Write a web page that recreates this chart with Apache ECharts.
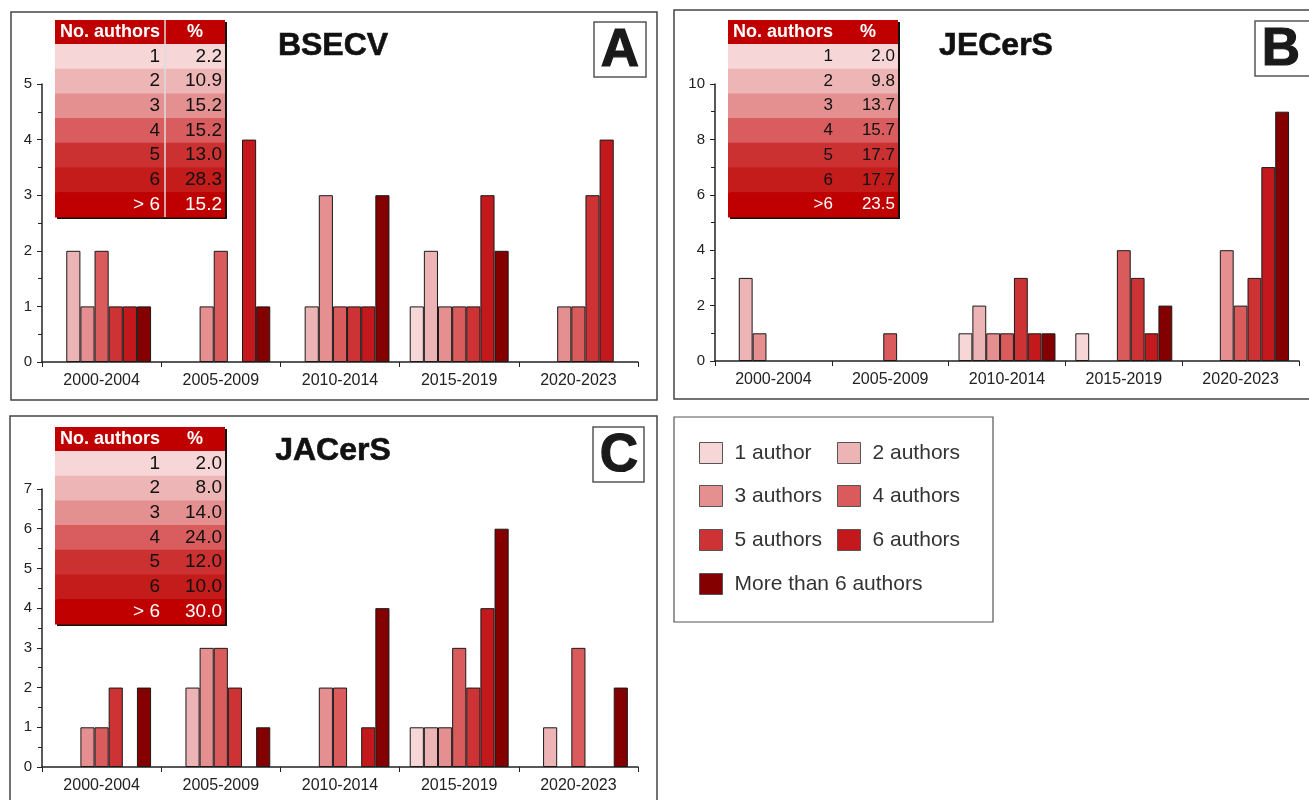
<!DOCTYPE html>
<html>
<head>
<meta charset="utf-8">
<script src="https://cdn.jsdelivr.net/npm/echarts@6/dist/echarts.min.js"></script>
<style>
  html, body { margin: 0; padding: 0; background: #fff; }
  #main { width: 1309px; height: 800px; }
</style>
</head>
<body>
<div id="main"></div>
<script>
// periods on the x axis
const periods = ['2000-2004', '2005-2009', '2010-2014', '2015-2019', '2020-2023'];
const groupNames = ['1 author', '2 authors', '3 authors', '4 authors', '5 authors', '6 authors', 'More than 6 authors'];
const groupColors = ['#f6d6d7', '#edb4b5', '#e58f90', '#d95b5c', '#cd3334', '#c3191c', '#840000'];

// counts per author group (rows) across periods (columns)
const bsecvCounts = [
  [0, 0, 0, 1, 0],
  [2, 0, 1, 2, 0],
  [1, 1, 3, 1, 1],
  [2, 2, 1, 1, 1],
  [1, 0, 1, 1, 3],
  [1, 4, 1, 3, 4],
  [1, 1, 3, 2, 0]
];
const jecersCounts = [
  [0, 0, 1, 1, 0],
  [3, 0, 2, 0, 0],
  [1, 0, 1, 0, 4],
  [0, 1, 1, 4, 2],
  [0, 0, 3, 3, 3],
  [0, 0, 1, 1, 7],
  [0, 0, 1, 2, 9]
];
const jacersCounts = [
  [0, 0, 0, 1, 0],
  [0, 2, 0, 1, 1],
  [1, 3, 2, 1, 0],
  [1, 3, 2, 3, 3],
  [2, 2, 0, 2, 0],
  [0, 0, 1, 4, 0],
  [2, 1, 4, 6, 2]
];

// inset tables
const tableRowLabels = ['1', '2', '3', '4', '5', '6', '> 6'];
const bsecvPct = ['2.2', '10.9', '15.2', '15.2', '13.0', '28.3', '15.2'];
const jecersPct = ['2.0', '9.8', '13.7', '15.7', '17.7', '17.7', '23.5'];
const jacersPct = ['2.0', '8.0', '14.0', '24.0', '12.0', '10.0', '30.0'];
const tableColors = ['#f6d6d6', '#edb5b5', '#e49090', '#d95d5e', '#cc3132', '#c41b1b', '#c00000'];

// y axes
const yMax = [5, 10, 7];
const yStep = [1, 2, 1];

const panels = [
  { title: 'BSECV', letter: 'A', counts: bsecvCounts, pct: bsecvPct,
    grid: { left: 42, top: 84, width: 596, height: 278 },
    box: [11, 12, 646, 388], titleAt: [333, 46], letterBox: [594, 22, 52, 55],
    table: [55, 20], sep: true },
  { title: 'JECerS', letter: 'B', counts: jecersCounts, pct: jecersPct,
    grid: { left: 715, top: 84, width: 584, height: 277 },
    box: [674, 10, 640, 389], titleAt: [996, 46], letterBox: [1255, 21, 56, 55],
    table: [728, 20], sep: false },
  { title: 'JACerS', letter: 'C', counts: jacersCounts, pct: jacersPct,
    grid: { left: 42, top: 489, width: 596, height: 278 },
    box: [10, 416, 647, 400], titleAt: [333, 451], letterBox: [593, 427, 51, 55],
    table: [55, 427], sep: false }
];

const axisFont = 'Liberation Sans, Arial, sans-serif';

function makeTable(p) {
  const x = p.table[0], y = p.table[1];
  const w = 170, hh = 24, rh = 24.7, split = 110;
  const els = [];
  els.push({ type: 'rect', shape: { x: x + 2, y: y + 2, width: w, height: hh + 7 * rh }, style: { fill: '#111' }, z: 10 });
  els.push({ type: 'rect', shape: { x: x, y: y, width: w, height: hh }, style: { fill: '#c00000' }, z: 11 });
  els.push({ type: 'text', x: x + 5, y: y + hh / 2, style: { text: 'No. authors', fill: '#fff', font: 'bold 18px Liberation Sans', textVerticalAlign: 'middle' }, z: 12 });
  els.push({ type: 'text', x: x + split + 30, y: y + hh / 2, style: { text: '%', fill: '#fff', font: 'bold 18px Liberation Sans', textAlign: 'center', textVerticalAlign: 'middle' }, z: 12 });
  for (let i = 0; i < 7; i++) {
    const ry = y + hh + i * rh;
    const txtColor = i === 6 ? '#fff' : '#111';
    const font = p.letter === 'B' ? '17px Liberation Sans' : '19px Liberation Sans';
    els.push({ type: 'rect', shape: { x: x, y: ry, width: w, height: rh + 0.5 }, style: { fill: tableColors[i] }, z: 11 });
    const lab = (p.letter === 'B' && i === 6) ? '>6' : tableRowLabels[i];
    els.push({ type: 'text', x: x + split - 5, y: ry + rh / 2, style: { text: lab, fill: txtColor, font: font, textAlign: 'right', textVerticalAlign: 'middle' }, z: 12 });
    els.push({ type: 'text', x: x + w - 3, y: ry + rh / 2, style: { text: p.pct[i], fill: txtColor, font: font, textAlign: 'right', textVerticalAlign: 'middle' }, z: 12 });
  }
  if (p.sep) {
    els.push({ type: 'line', shape: { x1: x + split, y1: y, x2: x + split, y2: y + hh + 7 * rh }, style: { stroke: '#ddd', lineWidth: 1.5 }, z: 12 });
  }
  return els;
}

const graphic = [];
panels.forEach(function (p) {
  graphic.push({ type: 'rect', shape: { x: p.box[0], y: p.box[1], width: p.box[2], height: p.box[3] }, style: { fill: 'none', stroke: '#444', lineWidth: 1.5 }, z: -1 });
  graphic.push({ type: 'text', x: p.titleAt[0], y: p.titleAt[1], style: { text: p.title, fill: '#111', stroke: '#111', lineWidth: 0.6, font: 'bold 32px Liberation Sans', textAlign: 'center', textVerticalAlign: 'middle' } });
  const lb = p.letterBox;
  graphic.push({ type: 'rect', shape: { x: lb[0], y: lb[1], width: lb[2], height: lb[3] }, style: { fill: '#fff', stroke: '#555', lineWidth: 1.5 } });
  graphic.push({ type: 'text', x: lb[0] + 26, y: lb[1] + lb[3] / 2 + 2, style: { text: p.letter, fill: '#1a1a1a', stroke: '#1a1a1a', lineWidth: 1.2, font: 'bold 53px Liberation Sans', textAlign: 'center', textVerticalAlign: 'middle' } });
  makeTable(p).forEach(function (e) { graphic.push(e); });
});
// legend frame
graphic.push({ type: 'rect', shape: { x: 674, y: 417, width: 319, height: 205 }, style: { fill: 'none', stroke: '#555', lineWidth: 1.2 } });

const grids = [], xAxes = [], yAxes = [], series = [];
panels.forEach(function (p, pi) {
  grids.push(p.grid);
  xAxes.push({
    type: 'category', gridIndex: pi, data: periods,
    axisLine: { lineStyle: { color: '#222', width: 1.5 } },
    axisTick: { show: true, interval: 0, length: 5, lineStyle: { color: '#222' } },
    axisLabel: { color: '#222', fontSize: 16, fontFamily: axisFont, margin: 11 }
  });
  yAxes.push({
    type: 'value', gridIndex: pi, min: 0, max: yMax[pi], interval: yStep[pi],
    axisLine: { show: true, lineStyle: { color: '#222', width: 1.5 } },
    axisTick: { show: true, length: 5, lineStyle: { color: '#222' } },
    minorTick: { show: true, splitNumber: 2, length: 4, lineStyle: { color: '#222' } },
    splitLine: { show: false },
    axisLabel: { color: '#222', fontSize: 15, fontFamily: axisFont, margin: 10 }
  });
  p.counts.forEach(function (vals, gi) {
    series.push({
      type: 'bar', name: groupNames[gi], xAxisIndex: pi, yAxisIndex: pi,
      // empty slots are left blank instead of a zero-height outline
      data: vals.map(function (v) { return v === 0 ? '-' : v; }),
      barGap: '0%', barCategoryGap: '17%',
      itemStyle: { color: groupColors[gi], borderColor: '#1a1a1a', borderWidth: 1 },
      emphasis: { disabled: true }, animation: false
    });
  });
});

// legend laid out as in the figure: two columns, last item alone
const legendSlots = [[699, 442], [837, 442], [699, 485], [837, 485], [699, 529], [837, 529], [699, 573]];
const legends = groupNames.map(function (name, i) {
  return {
    data: [name], left: legendSlots[i][0], top: legendSlots[i][1], padding: 0,
    icon: 'rect', itemWidth: 23, itemHeight: 21, selectedMode: false,
    itemStyle: { borderColor: '#555', borderWidth: 1 },
    textStyle: { color: '#333', fontSize: 21, fontFamily: axisFont, padding: [0, 0, 0, 7] }
  };
});

const chart = echarts.init(document.getElementById('main'));
chart.setOption({
  backgroundColor: '#fff',
  animation: false,
  grid: grids,
  xAxis: xAxes,
  yAxis: yAxes,
  legend: legends,
  series: series,
  graphic: graphic
});
</script>
</body>
</html>
